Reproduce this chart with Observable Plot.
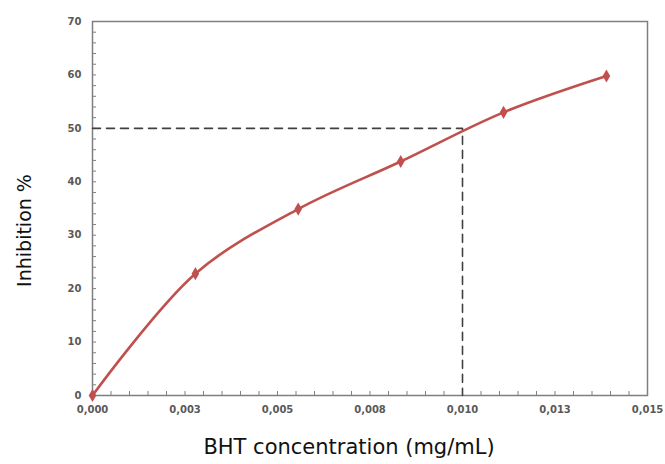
<!DOCTYPE html>
<html>
<head>
<meta charset="utf-8">
<script src="https://cdn.jsdelivr.net/npm/d3@7"></script>
<script src="https://cdn.jsdelivr.net/npm/@observablehq/plot@0.6"></script>
<style>
  html, body { margin: 0; padding: 0; background: #fff; }
  #chart svg { display: block; }
</style>
</head>
<body>
<div id="chart"></div>
<script>
const concentration = [0, 0.00278, 0.00556, 0.00833, 0.01111, 0.01389];
const inhibition = [0, 22.8, 34.9, 43.8, 53.0, 59.8];
const xTicks = [0, 0.0025, 0.005, 0.0075, 0.01, 0.0125, 0.015];
const xTickLabels = ["0,000", "0,003", "0,005", "0,008", "0,010", "0,013", "0,015"];
const yTicks = [0, 10, 20, 30, 40, 50, 60, 70];
const xMinor = d3.range(0, 31).map(i => i * 0.0005);
const yMinor = d3.range(0, 36).map(i => i * 2);
const ic50 = { x: 0.0100, y: 50 };
const xTitle = "BHT concentration (mg/mL)";
const yTitle = "Inhibition %";

const data = concentration.map((c, i) => ({ c, v: inhibition[i] }));
const red = "#C0504D";
const gray = "#595959";

const chart = Plot.plot({
  width: 665,
  height: 464,
  marginLeft: 92,
  marginRight: 18,
  marginTop: 21,
  marginBottom: 69,
  style: { fontFamily: "DejaVu Sans, sans-serif", background: "#fff" },
  x: { domain: [0, 0.015] },
  y: { domain: [0, 70] },
  marks: [
    Plot.frame({ stroke: "#7f7f7f", strokeWidth: 1.5 }),
    Plot.axisX({ ticks: xMinor, tickSize: -4, tickFormat: null, text: null, label: null, stroke: "#7f7f7f" }),
    Plot.axisY({ ticks: yMinor, tickSize: -4, tickFormat: null, text: null, label: null, stroke: "#7f7f7f" }),
    Plot.axisX({ ticks: xTicks, tickSize: 0, tickPadding: 10, tickFormat: (d, i) => xTickLabels[i], label: null, fill: gray, fontSize: 10, fontWeight: "bold" }),
    Plot.axisY({ ticks: yTicks, tickSize: 0, tickPadding: 11, label: null, fill: gray, fontSize: 10, fontWeight: "bold" }),
    Plot.line([{ x: 0, y: ic50.y }, { x: ic50.x, y: ic50.y }, { x: ic50.x, y: 0 }], {
      x: "x", y: "y", stroke: "#404040", strokeWidth: 1.6, strokeDasharray: "8,6"
    }),
    Plot.line(data, { x: "c", y: "v", stroke: red, strokeWidth: 2.6, curve: "catmull-rom" }),
    Plot.dot(data, { x: "c", y: "v", symbol: "diamond", fill: red, r: 4 }),
    Plot.text([xTitle], { frameAnchor: "bottom", dy: 58, dx: -21, fontSize: 21, fill: "#111" }),
    Plot.text([yTitle], { frameAnchor: "left", textAnchor: "middle", dx: -68, dy: 22, rotate: -90, fontSize: 19, fill: "#111" })
  ]
});
document.getElementById("chart").appendChild(chart);
</script>
</body>
</html>
